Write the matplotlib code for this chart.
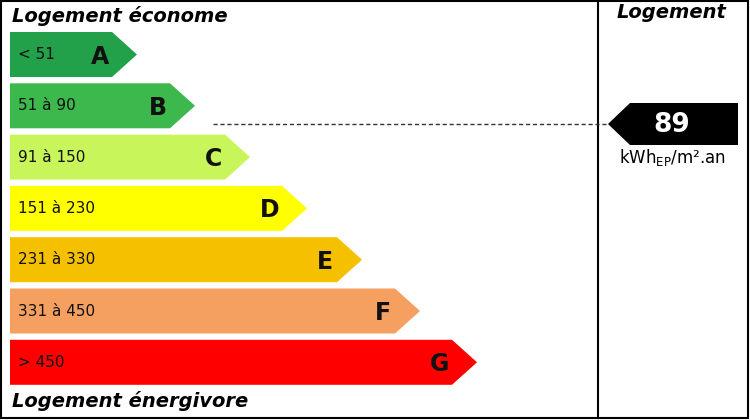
import matplotlib
matplotlib.use('Agg')
import matplotlib.pyplot as plt
from matplotlib.patches import Polygon, Rectangle

# Classes energetiques
letters = ['A', 'B', 'C', 'D', 'E', 'F', 'G']
ranges = ['< 51', '51 à 90', '91 à 150', '151 à 230', '231 à 330', '331 à 450', '> 450']
colors = ['#23a04a', '#3cb84c', '#c8f55a', '#ffff00', '#f5c000', '#f5a060', '#ff0000']
bar_ends = [137, 195, 250, 307, 362, 420, 477]   # pointe de chaque fleche (px)
value = 89
value_y = 124  # hauteur du repere (px)

fig = plt.figure(figsize=(7.5, 4.2), dpi=100)
ax = fig.add_axes([0, 0, 1, 1])
ax.set_xlim(0, 750)
ax.set_ylim(420, 0)
ax.axis('off')

ax.add_patch(Rectangle((1, 1), 747, 417, fill=False, ec='black', lw=1.5))
ax.plot([598, 598], [1, 418], color='black', lw=1.5)

top, h, step, tip = 32, 45, 51.3, 25
for i, (lt, rg, c, end) in enumerate(zip(letters, ranges, colors, bar_ends)):
    y0 = top + i * step
    y1 = y0 + h
    ym = (y0 + y1) / 2
    ax.add_patch(Polygon([(10, y0), (end - tip, y0), (end, ym), (end - tip, y1), (10, y1)],
                         closed=True, fc=c, ec='none'))
    ax.text(18, ym, rg, fontsize=11, fontweight='medium', va='center', ha='left', color='#111111')
    ax.text(end - tip - 12, ym + 2, lt, fontsize=17, fontweight='bold', va='center', ha='center',
            color='#111111')

ax.text(12, 16, 'Logement économe', fontsize=14, style='italic', fontweight='bold', va='center')
ax.text(12, 401, 'Logement énergivore', fontsize=14, style='italic', fontweight='bold', va='center')
ax.text(672, 13, 'Logement', fontsize=14, style='italic', fontweight='bold', va='center', ha='center')

# Indicateur
ym = value_y
ax.plot([213, 608], [ym, ym], color='#333333', lw=1, ls=(0, (3, 2)))
ax.add_patch(Polygon([(608, ym), (630, ym - 21), (738, ym - 21), (738, ym + 21), (630, ym + 21)],
                     closed=True, fc='black', ec='none'))
ax.text(672, ym + 1, str(value), fontsize=19, fontweight='bold', color='white', va='center', ha='center')
ax.text(672, ym + 33, r'kWh$_{\mathrm{EP}}$/m².an', fontsize=12, va='center', ha='center')

fig.savefig('out.png', dpi=100)
